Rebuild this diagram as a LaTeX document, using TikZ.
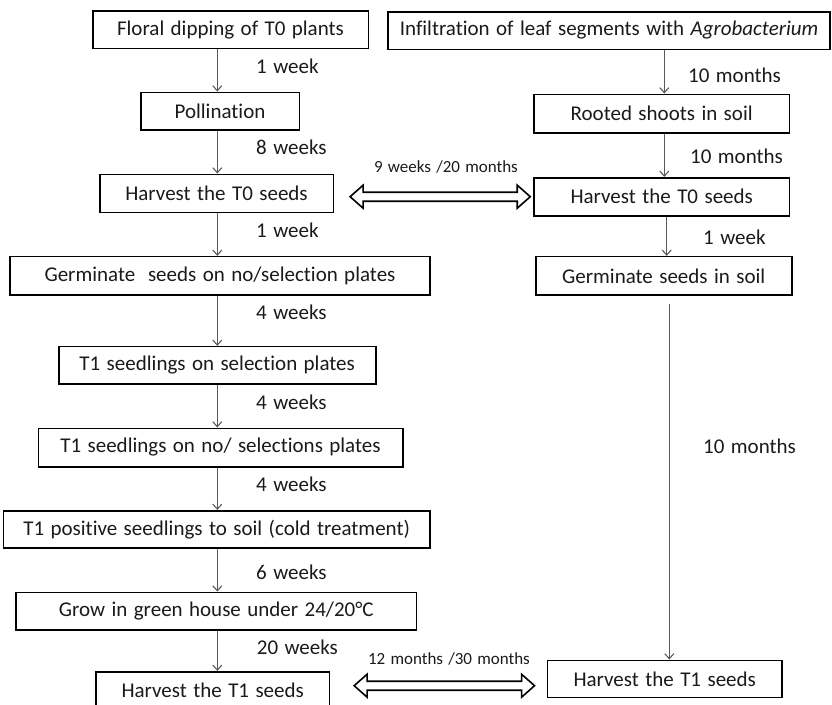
\documentclass[tikz,border=0pt]{standalone}
\usepackage{fontspec}
\setmainfont{Carlito}[Ligatures=NoCommon,WordSpace=1.35]
\usetikzlibrary{arrows.meta,calc}
\definecolor{linegray}{HTML}{595959}
\definecolor{txt}{HTML}{1A1A1A}
\begin{document}
\begin{tikzpicture}[x=1pt,y=-1pt,
  box/.style={draw=black,line width=1.6pt,inner sep=0pt,text=txt,font=\fontsize{21}{24}\selectfont,anchor=center},
  lab/.style={inner sep=0pt,anchor=west,text=txt,font=\fontsize{21}{24}\selectfont},
  small/.style={inner sep=0pt,text=txt,font=\fontsize{17}{20}\selectfont},
  arr/.style={draw=linegray,line width=1.1pt,-{Straight Barb[length=5pt,width=9pt,line width=1.1pt]}},
  blk/.style={draw=black,line width=1.6pt,fill=white,line join=miter}]
\useasboundingbox (0,0) rectangle (832,704);
\clip (0,0) rectangle (832,704);
% left column
\node[box,minimum width=275.6pt,minimum height=37.3pt] (F) at (230.5,29.7) {Floral dipping of T0 plants};
\node[box,minimum width=158.6pt,minimum height=37.7pt] (Po) at (220,111.2) {Pollination};
\node[box,minimum width=233.6pt,minimum height=38pt] (HL0) at (216.5,193.3) {Harvest the T0 seeds};
\node[box,minimum width=420pt,minimum height=38.3pt] (GL) at (220,275.8) {Germinate\hspace{0.3em} seeds on no/selection plates};
\node[box,minimum width=317pt,minimum height=37.3pt] (S1) at (217.2,365.3) {T1 seedlings on selection plates};
\node[box,minimum width=364.4pt,minimum height=38.4pt] (S2) at (220.5,447.5) {T1 seedlings on no/ selections plates};
\node[box,minimum width=426.7pt,minimum height=37pt] (P) at (216.7,529.2) {T1 positive seedlings to soil (cold treatment)};
\node[box,minimum width=400.7pt,minimum height=37.7pt] (G) at (216.3,611.2) {Grow in green house under 24/20°C};
\node[box,minimum width=233.3pt,minimum height=38pt] (HL1) at (212.7,690.7) {Harvest the T1 seeds};
% right column
\node[box,minimum width=442pt,minimum height=37.6pt] (I) at (609,30.5) {Infiltration of leaf segments with \textit{Agrobacterium}};
\node[box,minimum width=255.3pt,minimum height=38.4pt] (R) at (661.7,113.5) {Rooted shoots in soil};
\node[box,minimum width=255.3pt,minimum height=38pt] (HR0) at (661.7,196.7) {Harvest the T0 seeds};
\node[box,minimum width=256pt,minimum height=38.3pt] (GR) at (663.7,275.8) {Germinate seeds in soil};
\node[box,minimum width=234.7pt,minimum height=37pt] (HR1) at (664.7,678.8) {Harvest the T1 seeds};
% arrow x positions
\coordinate (xl) at (217.3,0);
\coordinate (xr1) at (664.3,0);
\coordinate (xr2) at (666.7,0);
\coordinate (xr3) at (669.3,0);
% left arrows
\draw[arr] (F.south -| xl) -- (Po.north -| xl);
\draw[arr] (Po.south -| xl) -- (HL0.north -| xl);
\draw[arr] (HL0.south -| xl) -- (GL.north -| xl);
\draw[arr] (GL.south -| xl) -- (S1.north -| xl);
\draw[arr] (S1.south -| xl) -- (S2.north -| xl);
\draw[arr] (S2.south -| xl) -- (P.north -| xl);
\draw[arr] (P.south -| xl) -- (G.north -| xl);
\draw[arr] (G.south -| xl) -- (HL1.north -| xl);
% right arrows
\draw[arr] (I.south -| xr1) -- (R.north -| xr1);
\draw[arr] (R.south -| xr1) -- (HR0.north -| xr1);
\draw[arr] (HR0.south -| xr2) -- (GR.north -| xr2);
\coordinate (gs) at ([yshift=-8pt]GR.south -| xr3);
\draw[arr] (gs) -- (HR1.north -| xr3);
% time labels left
\node[lab] (l1) at (256,66.7) {1 week};
\node[lab] (l2) at (256,147.7) {8 weeks};
\node[lab] (l3) at (256,230) {1 week};
\node[lab] (l4) at (256,312.7) {4 weeks};
\node[lab] (l5) at (256,402.3) {4 weeks};
\node[lab] (l6) at (256,484) {4 weeks};
\node[lab] (l7) at (256,572.7) {6 weeks};
\node[lab] (l8) at (256.7,647.7) {20 weeks};
% time labels right
\node[lab] (r1) at (688,75) {10 months};
\node[lab] (r2) at (690,156) {10 months};
\node[lab] (r3) at (703,237.3) {1 week};
\node[lab] (r4) at (703,446) {10 months};
% block double arrows
\coordinate (a1) at ([xshift=16pt]HL0.east |- HR0.west);
\coordinate (b1) at ([xshift=-3pt]HR0.west);
\draw[blk] (a1) -- ($(a1)+(13,-11.5)$) -- ($(a1)+(13,-4.5)$) -- ($(b1)+(-13,-4.5)$) -- ($(b1)+(-13,-11.5)$) -- (b1)
  -- ($(b1)+(-13,11.5)$) -- ($(b1)+(-13,4.5)$) -- ($(a1)+(13,4.5)$) -- ($(a1)+(13,11.5)$) -- cycle;
\node[small] (t1) at (446,167) {9 weeks /20 months};
\coordinate (a2) at ([xshift=24pt,yshift=5pt]HL1.east);
\coordinate (b2) at ([xshift=-12pt]HR1.west |- a2);
\draw[blk] (a2) -- ($(a2)+(13,-11.5)$) -- ($(a2)+(13,-4.5)$) -- ($(b2)+(-13,-4.5)$) -- ($(b2)+(-13,-11.5)$) -- (b2)
  -- ($(b2)+(-13,11.5)$) -- ($(b2)+(-13,4.5)$) -- ($(a2)+(13,4.5)$) -- ($(a2)+(13,11.5)$) -- cycle;
\node[small] (t2) at (449,659) {12 months /30 months};
\end{tikzpicture}
\end{document}
